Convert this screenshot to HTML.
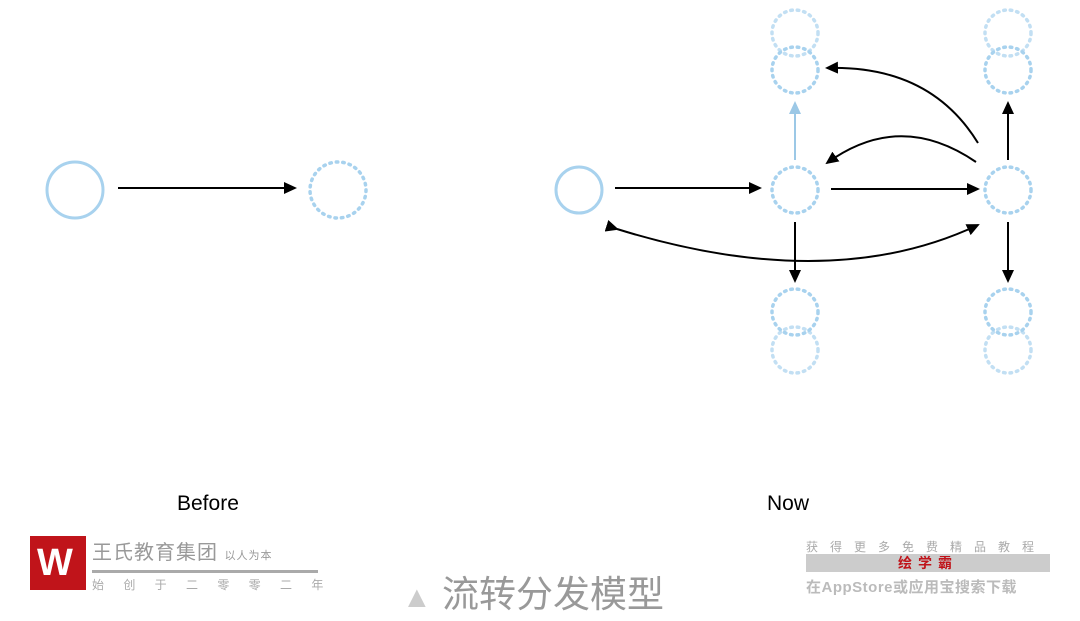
<!DOCTYPE html>
<html><head><meta charset="utf-8"><style>
body{margin:0;width:1080px;height:613px;background:#fff;overflow:hidden;position:relative;font-family:"Liberation Sans","Noto Sans CJK SC",sans-serif}
.t{position:absolute;color:#000;font-size:21px}
</style></head><body>
<svg width="1080" height="613" style="position:absolute;left:0;top:0">
<defs><marker id="a" markerWidth="13" markerHeight="12" refX="11" refY="6" orient="auto" markerUnits="userSpaceOnUse"><path d="M0,0 L13,6 L0,12z" fill="#000"/></marker>
<marker id="b" markerWidth="13" markerHeight="12" refX="11" refY="6" orient="auto" markerUnits="userSpaceOnUse"><path d="M0,0 L13,6 L0,12z" fill="#9cc8e6"/></marker></defs>
<g fill="none" stroke="#a8d2ee" stroke-width="3">
<circle cx="75" cy="190" r="28"/>
<circle cx="579" cy="190" r="23"/>
</g>
<g fill="none" stroke="#a8d2ee" stroke-width="3.5" stroke-dasharray="1.5 5" stroke-linecap="round">
<circle cx="338" cy="190" r="28"/>
<circle cx="795" cy="33" r="23" opacity=".7"/><circle cx="795" cy="70" r="23"/>
<circle cx="795" cy="190" r="23"/>
<circle cx="795" cy="312" r="23"/><circle cx="795" cy="350" r="23" opacity=".7"/>
<circle cx="1008" cy="33" r="23" opacity=".7"/><circle cx="1008" cy="70" r="23"/>
<circle cx="1008" cy="190" r="23"/>
<circle cx="1008" cy="312" r="23"/><circle cx="1008" cy="350" r="23" opacity=".7"/>
</g>
<g stroke="#000" stroke-width="2" fill="none" marker-end="url(#a)">
<line x1="118" y1="188" x2="295" y2="188"/>
<line x1="615" y1="188" x2="760" y2="188"/>
<line x1="831" y1="189" x2="978" y2="189"/>
<line x1="795" y1="222" x2="795" y2="281"/>
<line x1="1008" y1="160" x2="1008" y2="103"/>
<line x1="1008" y1="222" x2="1008" y2="281"/>
<path d="M978,143 Q930,65 827,68"/>
<path d="M976,162 Q900,110 827,163"/>
<path d="M617,229 Q830,295 978,225" marker-start="url(#a)"/>
</g>
<line x1="795" y1="160" x2="795" y2="103" stroke="#9cc8e6" stroke-width="2" marker-end="url(#b)"/>
</svg>
<div class="t" style="left:177px;top:492px">Before</div>
<div class="t" style="left:767px;top:492px">Now</div>
<div style="position:absolute;left:30px;top:536px;width:56px;height:54px;background:#c0141a"></div>
<div style="position:absolute;left:37px;top:543px;color:#fff;font-size:38px;font-weight:bold;line-height:40px">W</div>
<div style="position:absolute;left:92px;top:536px;color:#999;font-size:20px;letter-spacing:1px">王氏教育集团 <span style="font-size:11px">以人为本</span></div>
<div style="position:absolute;left:92px;top:570px;width:226px;height:3px;background:#aaa"></div>
<div style="position:absolute;left:92px;top:576px;color:#aaa;font-size:12px;word-spacing:16px">始 创 于 二 零 零 二 年</div>
<div style="position:absolute;left:402px;top:572px;color:#999;font-size:37px;line-height:46px"><span style="color:#ccc;font-size:30px">▲</span> 流转分发模型</div>
<div style="position:absolute;left:806px;top:538px;color:#aaa;font-size:12px;letter-spacing:12px">获得更多免费精品教程</div>
<div style="position:absolute;left:806px;top:554px;width:244px;height:18px;background:#ccc;color:#c0141a;font-size:14px;font-weight:bold;text-align:center;line-height:18px;letter-spacing:6px">绘学霸</div>
<div style="position:absolute;left:806px;top:576px;color:#bbb;font-size:15px;font-weight:bold;letter-spacing:0.5px">在AppStore或应用宝搜索下载</div>
</body></html>
